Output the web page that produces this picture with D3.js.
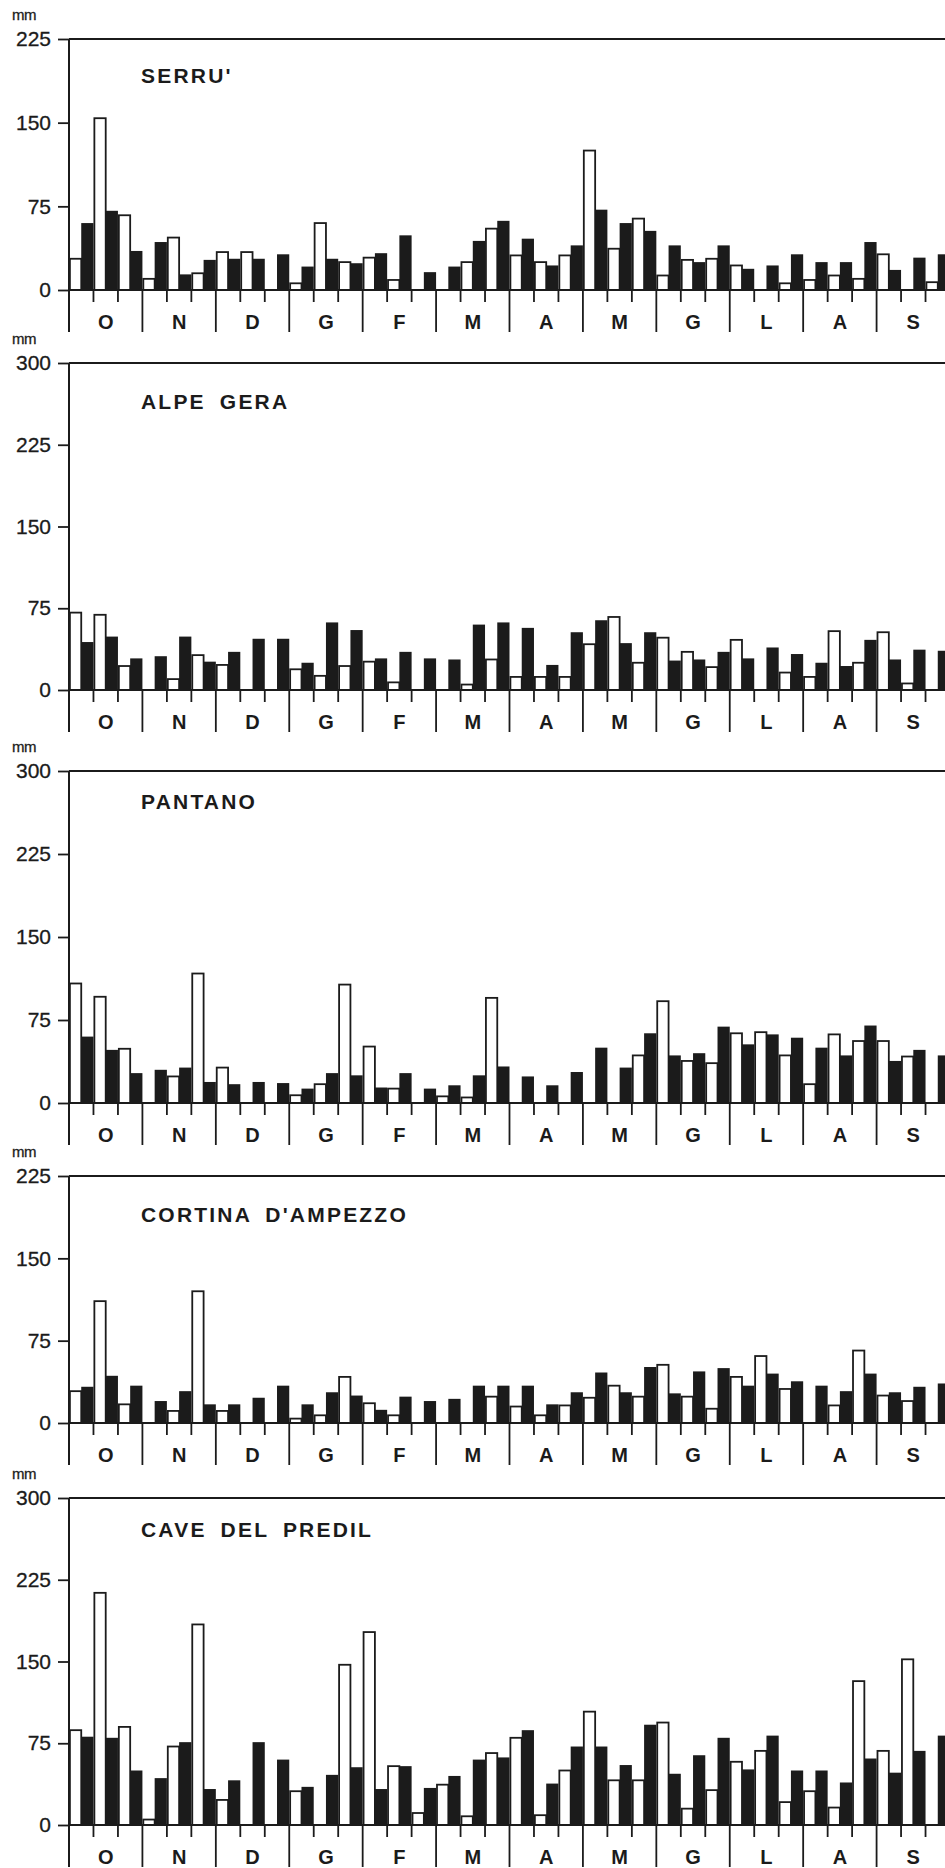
<!DOCTYPE html>
<html>
<head>
<meta charset="utf-8">
<script src="https://cdn.jsdelivr.net/npm/d3@7/dist/d3.min.js"></script>
<style>
  body { margin: 0; background: #fff; }
  svg { display: block; }
</style>
</head>
<body>
<div id="chart"></div>
<script>
// Months of the hydrological year, Oct -> Sep (Italian initials).
const months = ['O', 'N', 'D', 'G', 'F', 'M', 'A', 'M', 'G', 'L', 'A', 'S']
const stations = ["SERRU'", 'ALPE GERA', 'PANTANO', "CORTINA D'AMPEZZO", 'CAVE DEL PREDIL']
const yMax = [225, 300, 300, 225, 300]
const ticks225 = [0, 75, 150, 225]
const ticks300 = [0, 75, 150, 225, 300]

// Ten-day totals (mm), 3 per month. "hollow" = white bars, "solid" = black bars.
const serruHollow = [28, 154, 67, 10, 47, 15, 34, 34, 0, 6, 60, 25, 29, 9, 0, 0, 25, 55,
  31, 25, 31, 125, 37, 64, 13, 27, 28, 22, 0, 6, 9, 13, 10, 32, 0, 7]
const serruSolid = [60, 71, 35, 43, 14, 27, 28, 28, 32, 21, 28, 24, 33, 49, 16, 21, 44, 62,
  46, 22, 40, 72, 60, 53, 40, 25, 40, 19, 22, 32, 25, 25, 43, 18, 29, 32]

const alpeGeraHollow = [71, 69, 22, 0, 10, 32, 23, 0, 0, 19, 13, 22, 26, 7, 0, 0, 5, 28,
  12, 12, 12, 42, 67, 25, 48, 35, 21, 46, 0, 16, 12, 54, 25, 53, 6, 0]
const alpeGeraSolid = [44, 49, 29, 31, 49, 26, 35, 47, 47, 25, 62, 55, 29, 35, 29, 28, 60, 62,
  57, 23, 53, 64, 43, 53, 27, 28, 35, 29, 39, 33, 25, 22, 46, 28, 37, 36]

const pantanoHollow = [108, 96, 49, 0, 24, 117, 32, 0, 0, 7, 17, 107, 51, 13, 0, 6, 5, 95,
  0, 0, 0, 0, 0, 43, 92, 38, 36, 63, 64, 43, 17, 62, 56, 56, 42, 0]
const pantanoSolid = [60, 48, 27, 30, 32, 19, 17, 19, 18, 13, 27, 25, 14, 27, 13, 16, 25, 33,
  24, 16, 28, 50, 32, 63, 43, 45, 69, 53, 62, 59, 50, 43, 70, 38, 48, 43]

const cortinaHollow = [29, 111, 17, 0, 11, 120, 11, 0, 0, 4, 7, 42, 18, 7, 0, 0, 0, 24,
  15, 7, 16, 23, 34, 24, 53, 24, 13, 42, 61, 31, 0, 16, 66, 25, 20, 0]
const cortinaSolid = [33, 43, 34, 20, 29, 17, 17, 23, 34, 17, 28, 25, 12, 24, 20, 22, 34, 34,
  34, 17, 28, 46, 28, 51, 27, 47, 50, 34, 45, 38, 34, 29, 45, 28, 33, 36]

const predilHollow = [87, 213, 90, 5, 72, 184, 23, 0, 0, 31, 0, 147, 177, 54, 11, 37, 8, 66,
  80, 9, 50, 104, 41, 41, 94, 15, 32, 58, 68, 21, 31, 16, 132, 68, 152, 0]
const predilSolid = [81, 80, 50, 43, 76, 33, 41, 76, 60, 35, 46, 53, 33, 54, 34, 45, 60, 62,
  87, 38, 72, 72, 55, 92, 47, 64, 80, 51, 82, 50, 50, 39, 61, 48, 68, 82]

const hollowSeries = [serruHollow, alpeGeraHollow, pantanoHollow, cortinaHollow, predilHollow]
const solidSeries = [serruSolid, alpeGeraSolid, pantanoSolid, cortinaSolid, predilSolid]

// Page layout: where each panel's top value and zero line fall.
const width = 945
const height = 1868
const axisX = 69
const plotRight = 950
const panelTop = [39, 363, 771, 1176, 1498]
const panelZero = [290, 690, 1103, 1423, 1825]
const titleDy = [44, 46, 38, 46, 39]
const ink = '#1b1b1b'
const font = "'Liberation Sans', Arial, sans-serif"

const svg = d3.select('#chart')
  .append('svg')
  .attr('width', width)
  .attr('height', height)

// Shared horizontal scales: decades, then hollow/solid inside each decade.
const decades = d3.range(36)
const x0 = d3.scaleBand().domain(decades).range([axisX, plotRight]).padding(0)
const x1 = d3.scaleBand().domain(['hollow', 'solid']).range([0, x0.bandwidth()]).padding(0)
const xMonth = d3.scaleBand().domain(d3.range(12)).range([axisX, plotRight]).padding(0)

stations.forEach((name, p) => {
  const g = svg.append('g')
  const y = d3.scaleLinear().domain([0, yMax[p]]).range([panelZero[p], panelTop[p]])
  const zero = panelZero[p]

  // unit label
  g.append('text')
    .attr('x', 12)
    .attr('y', panelTop[p] - 19)
    .attr('font-family', font)
    .attr('font-size', 15)
    .attr('letter-spacing', -0.5)
    .attr('fill', ink)
    .attr('stroke', ink)
    .attr('stroke-width', 0.3)
    .text('mm')

  // y axis ticks and labels
  const yAxis = d3.axisLeft(y)
    .tickValues(yMax[p] === 225 ? ticks225 : ticks300)
    .tickSize(11)
    .tickPadding(7)
    .tickFormat(d3.format('d'))
  const ya = g.append('g').attr('transform', `translate(${axisX},0)`).call(yAxis)
  ya.select('.domain').remove()
  ya.selectAll('line').attr('stroke', ink).attr('stroke-width', 1.8)
  ya.selectAll('text')
    .attr('font-family', font)
    .attr('font-size', 21)
    .attr('fill', ink)
    .attr('stroke', ink)
    .attr('stroke-width', 0.3)

  // top frame line at the max value
  g.append('line')
    .attr('x1', axisX).attr('x2', plotRight)
    .attr('y1', y(yMax[p])).attr('y2', y(yMax[p]))
    .attr('stroke', ink).attr('stroke-width', 2)

  // station name
  g.append('text')
    .attr('x', 141)
    .attr('y', panelTop[p] + titleDy[p])
    .attr('font-family', font)
    .attr('font-weight', 'bold')
    .attr('font-size', 21)
    .attr('letter-spacing', 2.2)
    .attr('word-spacing', 6)
    .attr('fill', ink)
    .text(name)

  // bars: white first, black on top so its edges stay crisp
  const rows = decades.map(i => ({ i, hollow: hollowSeries[p][i], solid: solidSeries[p][i] }))

  g.selectAll('rect.hollow')
    .data(rows.filter(d => d.hollow > 0))
    .join('rect')
    .attr('class', 'hollow')
    .attr('x', d => x0(d.i) + x1('hollow') + 0.9)
    .attr('width', x1.bandwidth() - 0.9)
    .attr('y', d => y(d.hollow))
    .attr('height', d => zero - y(d.hollow))
    .attr('fill', '#fff')
    .attr('stroke', ink)
    .attr('stroke-width', 1.8)

  g.selectAll('rect.solid')
    .data(rows)
    .join('rect')
    .attr('class', 'solid')
    .attr('x', d => x0(d.i) + x1('solid'))
    .attr('width', x1.bandwidth())
    .attr('y', d => y(d.solid))
    .attr('height', d => zero - y(d.solid))
    .attr('fill', ink)

  // zero line
  g.append('line')
    .attr('x1', axisX).attr('x2', plotRight)
    .attr('y1', zero).attr('y2', zero)
    .attr('stroke', ink).attr('stroke-width', 2)

  // vertical axis, running down through the month strip
  g.append('line')
    .attr('x1', axisX).attr('x2', axisX)
    .attr('y1', y(yMax[p])).attr('y2', zero + 42)
    .attr('stroke', ink).attr('stroke-width', 2)

  // short ticks between decades
  g.selectAll('line.dec')
    .data(decades.filter(i => i % 3 !== 0))
    .join('line')
    .attr('class', 'dec')
    .attr('x1', d => x0(d)).attr('x2', d => x0(d))
    .attr('y1', zero).attr('y2', zero + 12)
    .attr('stroke', ink).attr('stroke-width', 1.8)

  // long month separators
  g.selectAll('line.mon')
    .data(d3.range(1, 12))
    .join('line')
    .attr('class', 'mon')
    .attr('x1', d => xMonth(d)).attr('x2', d => xMonth(d))
    .attr('y1', zero).attr('y2', zero + 42)
    .attr('stroke', ink).attr('stroke-width', 1.8)

  // month initials
  g.selectAll('text.mon')
    .data(months)
    .join('text')
    .attr('class', 'mon')
    .attr('x', (d, i) => xMonth(i) + xMonth.bandwidth() / 2)
    .attr('y', zero + 39)
    .attr('text-anchor', 'middle')
    .attr('font-family', font)
    .attr('font-weight', 'bold')
    .attr('font-size', 20)
    .attr('fill', ink)
    .text(d => d)
})
</script>
</body>
</html>
